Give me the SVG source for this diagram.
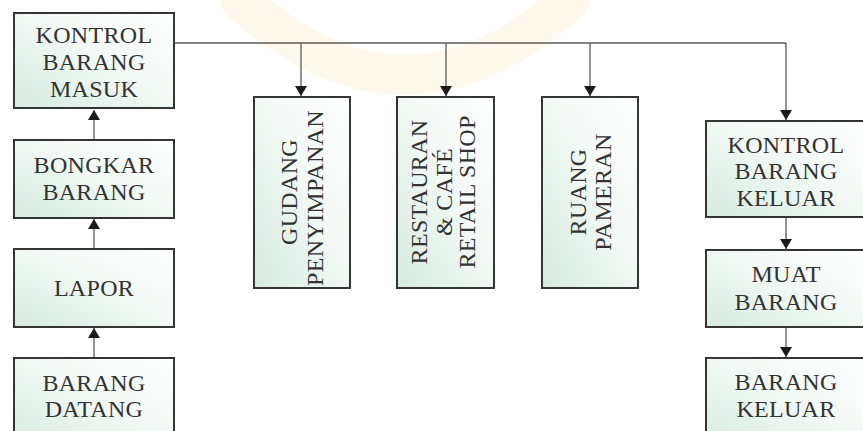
<svg xmlns="http://www.w3.org/2000/svg" width="863" height="431" viewBox="0 0 863 431">
  <style>
    .box { stroke: #353535; stroke-width: 2; fill: url(#boxFill); }
    .lbl { font-family: "Liberation Serif", "Times New Roman", serif; font-size: 24px; fill: #333333; text-anchor: middle; letter-spacing: 0.3px; }
    .wire { stroke: #5a5a5a; stroke-width: 1.3; fill: none; }
    .arrow { stroke: #5a5a5a; stroke-width: 1.3; fill: none; marker-end: url(#head); }
  </style>
  <defs>
    <linearGradient id="boxFill" x1="0" y1="1" x2="1" y2="0">
      <stop offset="0" stop-color="#d6ebe0"/>
      <stop offset="0.55" stop-color="#f3f9f6"/>
      <stop offset="1" stop-color="#ffffff"/>
    </linearGradient>
    <marker id="head" viewBox="0 0 10 12" refX="10" refY="6" markerWidth="11" markerHeight="12" markerUnits="userSpaceOnUse" orient="auto">
      <path d="M0,0 L10,6 L0,12 Z" fill="#1a1a1a"/>
    </marker>
  </defs>

  <rect width="863" height="431" fill="#ffffff"/>

  <!-- faint background emblem -->
  <g opacity="0.09" fill="none" stroke-linecap="round">
    <path d="M240,0 Q405,150 570,0" stroke="#f0b828" stroke-width="40"/>
  </g>

  <!-- connectors -->
  <g id="connectors">
    <path class="arrow" d="M94,140 L94,110"/>
    <path class="arrow" d="M94,249 L94,219"/>
    <path class="arrow" d="M94,358 L94,328"/>
    <path class="wire" d="M174,43 L786,43"/>
    <path class="arrow" d="M301,43 L301,96"/>
    <path class="arrow" d="M446,43 L446,96"/>
    <path class="arrow" d="M590,43 L590,96"/>
    <path class="arrow" d="M786,43 L786,120"/>
    <path class="arrow" d="M786,217 L786,249"/>
    <path class="arrow" d="M786,327 L786,357"/>
  </g>

  <!-- left column -->
  <g id="kontrol-barang-masuk">
    <rect class="box" x="14" y="13" width="160" height="95"/>
    <text class="lbl" x="94" y="43">KONTROL</text>
    <text class="lbl" x="94" y="70">BARANG</text>
    <text class="lbl" x="94" y="97">MASUK</text>
  </g>
  <g id="bongkar-barang">
    <rect class="box" x="14" y="140" width="160" height="78"/>
    <text class="lbl" x="94" y="173">BONGKAR</text>
    <text class="lbl" x="94" y="200">BARANG</text>
  </g>
  <g id="lapor">
    <rect class="box" x="14" y="249" width="160" height="78"/>
    <text class="lbl" x="94" y="296">LAPOR</text>
  </g>
  <g id="barang-datang">
    <rect class="box" x="14" y="358" width="160" height="90"/>
    <text class="lbl" x="94" y="391">BARANG</text>
    <text class="lbl" x="94" y="417">DATANG</text>
  </g>

  <!-- destination rooms -->
  <g id="gudang-penyimpanan">
    <rect class="box" x="254" y="97" width="96" height="191"/>
    <text class="lbl" transform="translate(297,192) rotate(-90)" letter-spacing="1.5">GUDANG</text>
    <text class="lbl" transform="translate(323,198) rotate(-90)">PENYIMPANAN</text>
  </g>
  <g id="restauran-cafe-retail">
    <rect class="box" x="397" y="97" width="97" height="191"/>
    <text class="lbl" transform="translate(427,192) rotate(-90)">RESTAURAN</text>
    <text class="lbl" transform="translate(452,192) rotate(-90)">&amp; CAFÉ</text>
    <text class="lbl" transform="translate(475,192) rotate(-90)">RETAIL SHOP</text>
  </g>
  <g id="ruang-pameran">
    <rect class="box" x="542" y="97" width="96" height="191"/>
    <text class="lbl" transform="translate(586,192) rotate(-90)">RUANG</text>
    <text class="lbl" transform="translate(611,192) rotate(-90)">PAMERAN</text>
  </g>

  <!-- right column -->
  <g id="kontrol-barang-keluar">
    <rect class="box" x="706" y="121" width="160" height="96"/>
    <text class="lbl" x="786" y="153">KONTROL</text>
    <text class="lbl" x="786" y="179">BARANG</text>
    <text class="lbl" x="786" y="206">KELUAR</text>
  </g>
  <g id="muat-barang">
    <rect class="box" x="706" y="250" width="160" height="77"/>
    <text class="lbl" x="786" y="282">MUAT</text>
    <text class="lbl" x="786" y="310">BARANG</text>
  </g>
  <g id="barang-keluar">
    <rect class="box" x="706" y="358" width="160" height="90"/>
    <text class="lbl" x="786" y="390">BARANG</text>
    <text class="lbl" x="786" y="417">KELUAR</text>
  </g>
</svg>
